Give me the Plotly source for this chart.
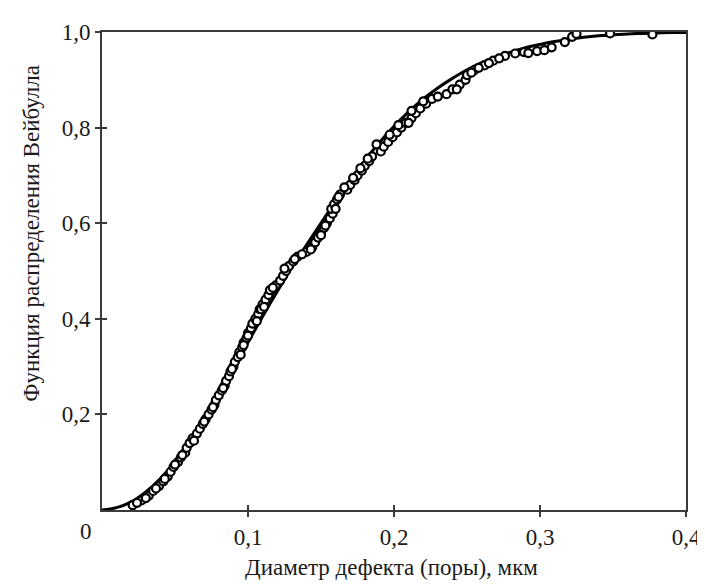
import plotly.graph_objects as go

# Fitted Weibull curve
curve_x = [0.00, 0.01, 0.02, 0.03, 0.04, 0.05, 0.06, 0.07, 0.08, 0.09, 0.10,
           0.11, 0.12, 0.13, 0.14, 0.15, 0.16, 0.17, 0.18, 0.19, 0.20,
           0.21, 0.22, 0.23, 0.24, 0.25, 0.26, 0.27, 0.28, 0.29, 0.30,
           0.31, 0.32, 0.33, 0.34, 0.35, 0.36, 0.37, 0.38, 0.39, 0.40]
curve_y = [0.000, 0.005, 0.017, 0.038, 0.066, 0.101, 0.143, 0.190, 0.242, 0.296, 0.351,
           0.405, 0.457, 0.507, 0.554, 0.600, 0.646, 0.690, 0.731, 0.769, 0.803,
           0.833, 0.860, 0.883, 0.903, 0.921, 0.936, 0.948, 0.958, 0.967, 0.974,
           0.980, 0.985, 0.989, 0.992, 0.994, 0.996, 0.997, 0.998, 0.999, 0.999]

pts_x = [0.021, 0.027, 0.032, 0.035, 0.039, 0.042, 0.045, 0.047, 0.049, 0.052,
         0.054, 0.057, 0.058, 0.060, 0.062, 0.065, 0.067, 0.069, 0.071, 0.073,
         0.075, 0.077, 0.078, 0.080, 0.082, 0.084, 0.085, 0.087, 0.088, 0.090,
         0.091, 0.093, 0.094, 0.096, 0.097, 0.099, 0.100, 0.102, 0.103, 0.105,
         0.107, 0.108, 0.110, 0.112, 0.114, 0.116, 0.119, 0.122, 0.124, 0.126,
         0.128, 0.131, 0.134, 0.140, 0.144, 0.146, 0.148, 0.150, 0.152, 0.154,
         0.156, 0.158, 0.157, 0.159, 0.161, 0.163, 0.168, 0.170, 0.173, 0.175,
         0.178, 0.180, 0.183, 0.185, 0.191, 0.193, 0.196, 0.199, 0.202, 0.205,
         0.208, 0.212, 0.215, 0.218, 0.222, 0.226, 0.236, 0.240, 0.245, 0.249,
         0.250, 0.255, 0.262, 0.268, 0.276, 0.283, 0.289, 0.298, 0.308, 0.317,
         0.322, 0.325, 0.348, 0.377,
         0.097, 0.109, 0.115, 0.150, 0.160, 0.212, 0.243, 0.210,
         0.024, 0.030, 0.037, 0.043, 0.050, 0.055, 0.063, 0.070, 0.076, 0.083,
         0.089, 0.095, 0.100, 0.106, 0.111, 0.117, 0.125, 0.132, 0.137, 0.143,
         0.153, 0.162, 0.166, 0.172, 0.177, 0.182, 0.188, 0.197, 0.203, 0.220,
         0.230, 0.253, 0.258, 0.265, 0.272, 0.292, 0.303]
pts_y = [0.010, 0.020, 0.030, 0.040, 0.050, 0.060, 0.070, 0.080, 0.090, 0.100,
         0.110, 0.120, 0.130, 0.140, 0.150, 0.160, 0.170, 0.180, 0.190, 0.200,
         0.210, 0.220, 0.230, 0.240, 0.250, 0.260, 0.270, 0.280, 0.290, 0.300,
         0.310, 0.320, 0.330, 0.340, 0.350, 0.360, 0.370, 0.380, 0.390, 0.400,
         0.410, 0.420, 0.430, 0.440, 0.450, 0.460, 0.470, 0.480, 0.490, 0.500,
         0.510, 0.520, 0.530, 0.540, 0.550, 0.560, 0.570, 0.580, 0.590, 0.600,
         0.610, 0.620, 0.630, 0.640, 0.650, 0.660, 0.670, 0.680, 0.690, 0.700,
         0.710, 0.720, 0.730, 0.740, 0.750, 0.760, 0.770, 0.780, 0.790, 0.800,
         0.810, 0.820, 0.830, 0.840, 0.850, 0.860, 0.870, 0.880, 0.890, 0.900,
         0.910, 0.920, 0.930, 0.940, 0.950, 0.955, 0.958, 0.960, 0.968, 0.979,
         0.990, 0.996, 0.997, 0.995,
         0.345, 0.420, 0.460, 0.575, 0.630, 0.835, 0.880, 0.810,
         0.015, 0.025, 0.045, 0.065, 0.095, 0.115, 0.145, 0.185, 0.215, 0.255,
         0.295, 0.325, 0.365, 0.395, 0.425, 0.465, 0.505, 0.525, 0.535, 0.545,
         0.595, 0.655, 0.675, 0.695, 0.715, 0.735, 0.765, 0.785, 0.805, 0.855,
         0.865, 0.915, 0.925, 0.935, 0.945, 0.956, 0.962]

x_ticks = [0.1, 0.2, 0.3, 0.4]
x_tick_text = ["0,1", "0,2", "0,3", "0,4"]
y_ticks = [0.2, 0.4, 0.6, 0.8, 1.0]
y_tick_text = ["0,2", "0,4", "0,6", "0,8", "1,0"]

FONT = "Times New Roman, Liberation Serif, DejaVu Serif, serif"
AX = "#3a3a3a"
TXT = "#1a1a1a"

fig = go.Figure()
fig.add_trace(go.Scatter(x=curve_x, y=curve_y, mode="lines",
                         line=dict(color="black", width=3, shape="spline"),
                         showlegend=False, hoverinfo="skip"))
fig.add_trace(go.Scatter(x=pts_x, y=pts_y, mode="markers",
                         marker=dict(symbol="circle", size=8, color="white",
                                     line=dict(color="black", width=2.2)),
                         showlegend=False))

common_x = dict(range=[0, 0.4], tickvals=x_ticks, showgrid=False, zeroline=False,
                showline=True, linecolor=AX, linewidth=2, tickcolor=AX,
                tickwidth=1.5, ticklen=5)
common_y = dict(range=[0, 1.0], tickvals=y_ticks, showgrid=False, zeroline=False,
                showline=True, linecolor=AX, linewidth=2, tickcolor=AX,
                tickwidth=1.5, ticklen=5)

fig.update_layout(
    width=705, height=585,
    margin=dict(l=94, r=19, t=23, b=83),
    paper_bgcolor="white", plot_bgcolor="white",
    font=dict(family=FONT, size=20, color=TXT),
    xaxis=dict(**common_x, ticktext=x_tick_text, ticks="outside", mirror=True,
               tickfont=dict(family=FONT, size=23, color=TXT)),
    yaxis=dict(**common_y, ticktext=y_tick_text, ticks="outside", mirror=True,
               tickfont=dict(family=FONT, size=23, color=TXT)),
    xaxis2=dict(**common_x, overlaying="x", ticks="inside", showticklabels=False,
                anchor="y"),
    yaxis2=dict(**common_y, overlaying="y", ticks="inside", showticklabels=False,
                anchor="x"),
    annotations=[
        dict(text="Диаметр дефекта (поры), мкм", xref="paper", yref="paper",
             x=0.495, y=-0.12, xanchor="center", yanchor="middle", showarrow=False,
             font=dict(family=FONT, size=23, color=TXT)),
        dict(text="Функция распределения Вейбулла", xref="paper", yref="paper",
             x=-0.12, y=0.58, xanchor="center", yanchor="middle", textangle=-90,
             showarrow=False, font=dict(family=FONT, size=23, color=TXT)),
        dict(text="0", xref="paper", yref="paper", x=-0.027, y=-0.045,
             xanchor="center", yanchor="middle", showarrow=False,
             font=dict(family=FONT, size=23, color=TXT)),
    ],
)
fig.add_trace(go.Scatter(x=[None], y=[None], xaxis="x2", yaxis="y2",
                         showlegend=False, hoverinfo="skip"))

fig.write_html("out.html")
